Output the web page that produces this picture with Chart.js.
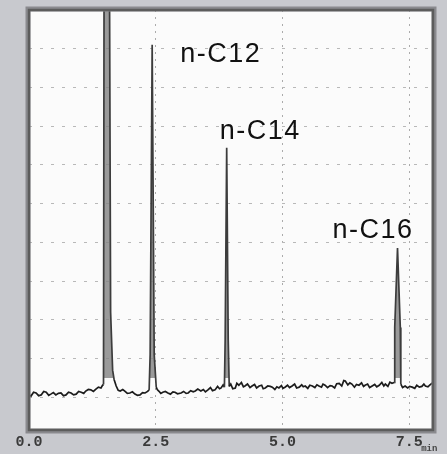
<!DOCTYPE html>
<html>
<head>
<meta charset="utf-8">
<script src="https://cdn.jsdelivr.net/npm/chart.js@4/dist/chart.umd.min.js"></script>
<style>
  html, body { margin: 0; padding: 0; background: #c8c9ce; }
  #wrap { position: relative; width: 447px; height: 454px; }
</style>
</head>
<body>
<div id="wrap"><canvas id="gc"></canvas></div>
<script>
// Cromatograma - tempo em minutos, sinal em divisões da grade
const traceTime = [
  0.00, 0.04, 0.09, 0.14, 0.19, 0.24, 0.29, 0.34, 0.39, 0.43, 0.48, 0.53, 0.58, 0.63, 0.68, 0.73,
  0.78, 0.83, 0.88, 0.93, 0.98, 1.03, 1.08, 1.12, 1.17, 1.22, 1.27, 1.32, 1.37, 1.42, 1.45, 1.47,
  1.48, 1.535, 1.59, 1.61, 1.65, 1.68, 1.72, 1.76, 1.80, 1.85, 1.89, 1.94, 1.99, 2.04, 2.09, 2.14,
  2.19, 2.24, 2.29, 2.34, 2.37, 2.39, 2.43, 2.47, 2.51, 2.53, 2.56, 2.60, 2.64, 2.69, 2.74, 2.79,
  2.84, 2.88, 2.93, 3.00, 3.05, 3.10, 3.14, 3.19, 3.24, 3.28, 3.33, 3.39, 3.44, 3.48, 3.53, 3.58,
  3.62, 3.67, 3.72, 3.76, 3.79, 3.83, 3.855, 3.87, 3.90, 3.93, 3.95, 3.98, 4.02, 4.07, 4.10, 4.14,
  4.19, 4.23, 4.26, 4.31, 4.36, 4.40, 4.45, 4.49, 4.54, 4.59, 4.62, 4.66, 4.71, 4.76, 4.80, 4.85,
  4.89, 4.93, 4.98, 5.01, 5.05, 5.10, 5.14, 5.19, 5.24, 5.28, 5.33, 5.38, 5.41, 5.45, 5.50, 5.54,
  5.59, 5.64, 5.68, 5.72, 5.77, 5.80, 5.84, 5.89, 5.94, 5.98, 6.03, 6.07, 6.12, 6.17, 6.21, 6.24,
  6.29, 6.33, 6.37, 6.42, 6.46, 6.51, 6.56, 6.60, 6.63, 6.68, 6.72, 6.77, 6.82, 6.86, 6.91, 6.96,
  7.00, 7.03, 7.08, 7.12, 7.16, 7.205, 7.215, 7.27, 7.325, 7.335, 7.37, 7.42, 7.47, 7.51, 7.56, 7.61,
  7.65, 7.70, 7.75, 7.79, 7.82, 7.87, 7.91, 7.95, 7.97
];
const traceSignal = [
  0.06, 0.03, 0.13, 0.11, 0.04, 0.06, 0.15, 0.13, 0.05, 0.08, 0.12, 0.06, 0.10, 0.11, 0.04, 0.06,
  0.13, 0.11, 0.06, 0.08, 0.15, 0.13, 0.10, 0.16, 0.20, 0.19, 0.15, 0.21, 0.26, 0.24, 0.31, 0.33,
  10.0, 14.0, 10.0, 2.20, 0.70, 0.45, 0.29, 0.18, 0.16, 0.20, 0.16, 0.10, 0.11, 0.14, 0.08, 0.05,
  0.06, 0.12, 0.11, 0.15, 0.19, 1.10, 9.10, 1.10, 0.26, 0.20, 0.16, 0.10, 0.13, 0.15, 0.11, 0.08,
  0.14, 0.13, 0.09, 0.11, 0.15, 0.10, 0.11, 0.17, 0.14, 0.16, 0.21, 0.16, 0.20, 0.14, 0.19, 0.25,
  0.17, 0.19, 0.28, 0.22, 0.24, 0.32, 0.26, 1.50, 6.44, 1.50, 0.28, 0.34, 0.22, 0.24, 0.36, 0.31,
  0.38, 0.27, 0.29, 0.34, 0.25, 0.29, 0.33, 0.24, 0.29, 0.31, 0.22, 0.24, 0.29, 0.28, 0.26, 0.20,
  0.27, 0.24, 0.30, 0.23, 0.26, 0.31, 0.25, 0.29, 0.34, 0.24, 0.26, 0.32, 0.27, 0.29, 0.23, 0.31,
  0.29, 0.25, 0.32, 0.29, 0.26, 0.34, 0.31, 0.25, 0.30, 0.29, 0.24, 0.35, 0.36, 0.29, 0.43, 0.42,
  0.32, 0.37, 0.34, 0.26, 0.33, 0.31, 0.37, 0.28, 0.31, 0.34, 0.25, 0.29, 0.33, 0.27, 0.31, 0.38,
  0.29, 0.34, 0.28, 0.39, 0.36, 0.38, 1.80, 3.85, 1.80, 0.34, 0.25, 0.29, 0.24, 0.28, 0.26, 0.23,
  0.31, 0.26, 0.28, 0.34, 0.29, 0.27, 0.32, 0.36, 0.34
];

// Picos identificados
const peakNames = ['n-C12', 'n-C14', 'n-C16'];
const peakTime = [2.43, 3.90, 7.27];
const peakHeight = [9.10, 6.44, 3.85];

// Eixos
const xTicks = [0, 2.5, 5.0, 7.5];
const gridLevels = [0, 1, 2, 3, 4, 5, 6, 7, 8, 9];

const tracePoints = traceTime.map((t, i) => ({ x: t, y: traceSignal[i] }));

// fundo branco e moldura da área do gráfico
const framePlugin = {
  id: 'frame',
  beforeDraw(chart) {
    const a = chart.chartArea, ctx = chart.ctx;
    ctx.save();
    ctx.fillStyle = '#fbfbfb';
    ctx.fillRect(a.left, a.top, a.right - a.left, a.bottom - a.top);
    ctx.restore();
  },
  afterDraw(chart) {
    const a = chart.chartArea, ctx = chart.ctx;
    ctx.save();
    ctx.strokeStyle = '#8a8a8e';
    ctx.lineWidth = 5;
    ctx.strokeRect(a.left - 1, a.top - 1, a.right - a.left + 2, a.bottom - a.top + 2);
    ctx.strokeStyle = '#5c5c5c';
    ctx.lineWidth = 2.5;
    ctx.strokeRect(a.left, a.top, a.right - a.left, a.bottom - a.top);
    ctx.restore();
  }
};

// nomes dos picos + unidade "min" no eixo x
const labelPlugin = {
  id: 'peakLabels',
  afterDraw(chart, args, opts) {
    const ctx = chart.ctx, x = chart.scales.x, y = chart.scales.y;
    ctx.save();
    ctx.fillStyle = '#111';
    ctx.font = opts.font;
    ctx.letterSpacing = opts.spacing;
    ctx.textBaseline = 'middle';
    ctx.textAlign = 'left';
    peakNames.forEach((name, i) => {
      const px = x.getPixelForValue(peakTime[i]) + opts.offsets[i][0];
      const py = y.getPixelForValue(peakHeight[i]) + opts.offsets[i][1];
      ctx.fillText(name, px, py);
    });
    ctx.letterSpacing = '0px';
    ctx.font = 'bold 9px "Liberation Mono"';
    ctx.fillStyle = '#444';
    ctx.textBaseline = 'alphabetic';
    ctx.fillText('min', x.getPixelForValue(xTicks[xTicks.length - 1]) + 12, 451);
    ctx.restore();
  }
};

new Chart(document.getElementById('gc'), {
  type: 'line',
  data: {
    datasets: [{
      label: 'FID',
      data: tracePoints,
      borderColor: '#1c1c1c',
      borderWidth: 1.7,
      pointRadius: 0,
      tension: 0,
      fill: { target: { value: 0.5 }, above: 'rgba(130,130,130,0.8)', below: 'rgba(0,0,0,0)' },
      segment: {
        borderColor: c => Math.max(c.p0.parsed.y, c.p1.parsed.y) > 0.6 ? '#3c3c3c' : undefined
      }
    }]
  },
  options: {
    responsive: true,
    maintainAspectRatio: false,
    animation: false,
    events: [],
    layout: { padding: { left: 29, top: 10, right: 14, bottom: 0 } },
    plugins: {
      legend: { display: false },
      tooltip: { enabled: false },
      peakLabels: {
        font: '27px "Liberation Sans"',
        spacing: '1.5px',
        offsets: [[28, 10], [-7, -16], [-65, -18]]
      }
    },
    scales: {
      x: {
        type: 'linear',
        min: 0,
        max: 7.97,
        afterBuildTicks: s => { s.ticks = xTicks.map(v => ({ value: v })); },
        border: { display: false, dash: [2, 5] },
        grid: { color: '#ababab', lineWidth: 1, drawTicks: false },
        ticks: {
          padding: 3,
          color: '#3a3a3a',
          font: { family: '"Liberation Mono"', size: 15, weight: 'bold' },
          maxRotation: 0,
          callback: v => v.toFixed(1)
        }
      },
      y: {
        type: 'linear',
        min: -0.846,
        max: 10,
        afterBuildTicks: s => { s.ticks = gridLevels.map(v => ({ value: v })); },
        border: { display: false, dash: [3, 8] },
        grid: { color: '#b8b8b8', lineWidth: 1, drawTicks: false },
        ticks: { display: false }
      }
    }
  },
  plugins: [framePlugin, labelPlugin]
});
</script>
</body>
</html>
